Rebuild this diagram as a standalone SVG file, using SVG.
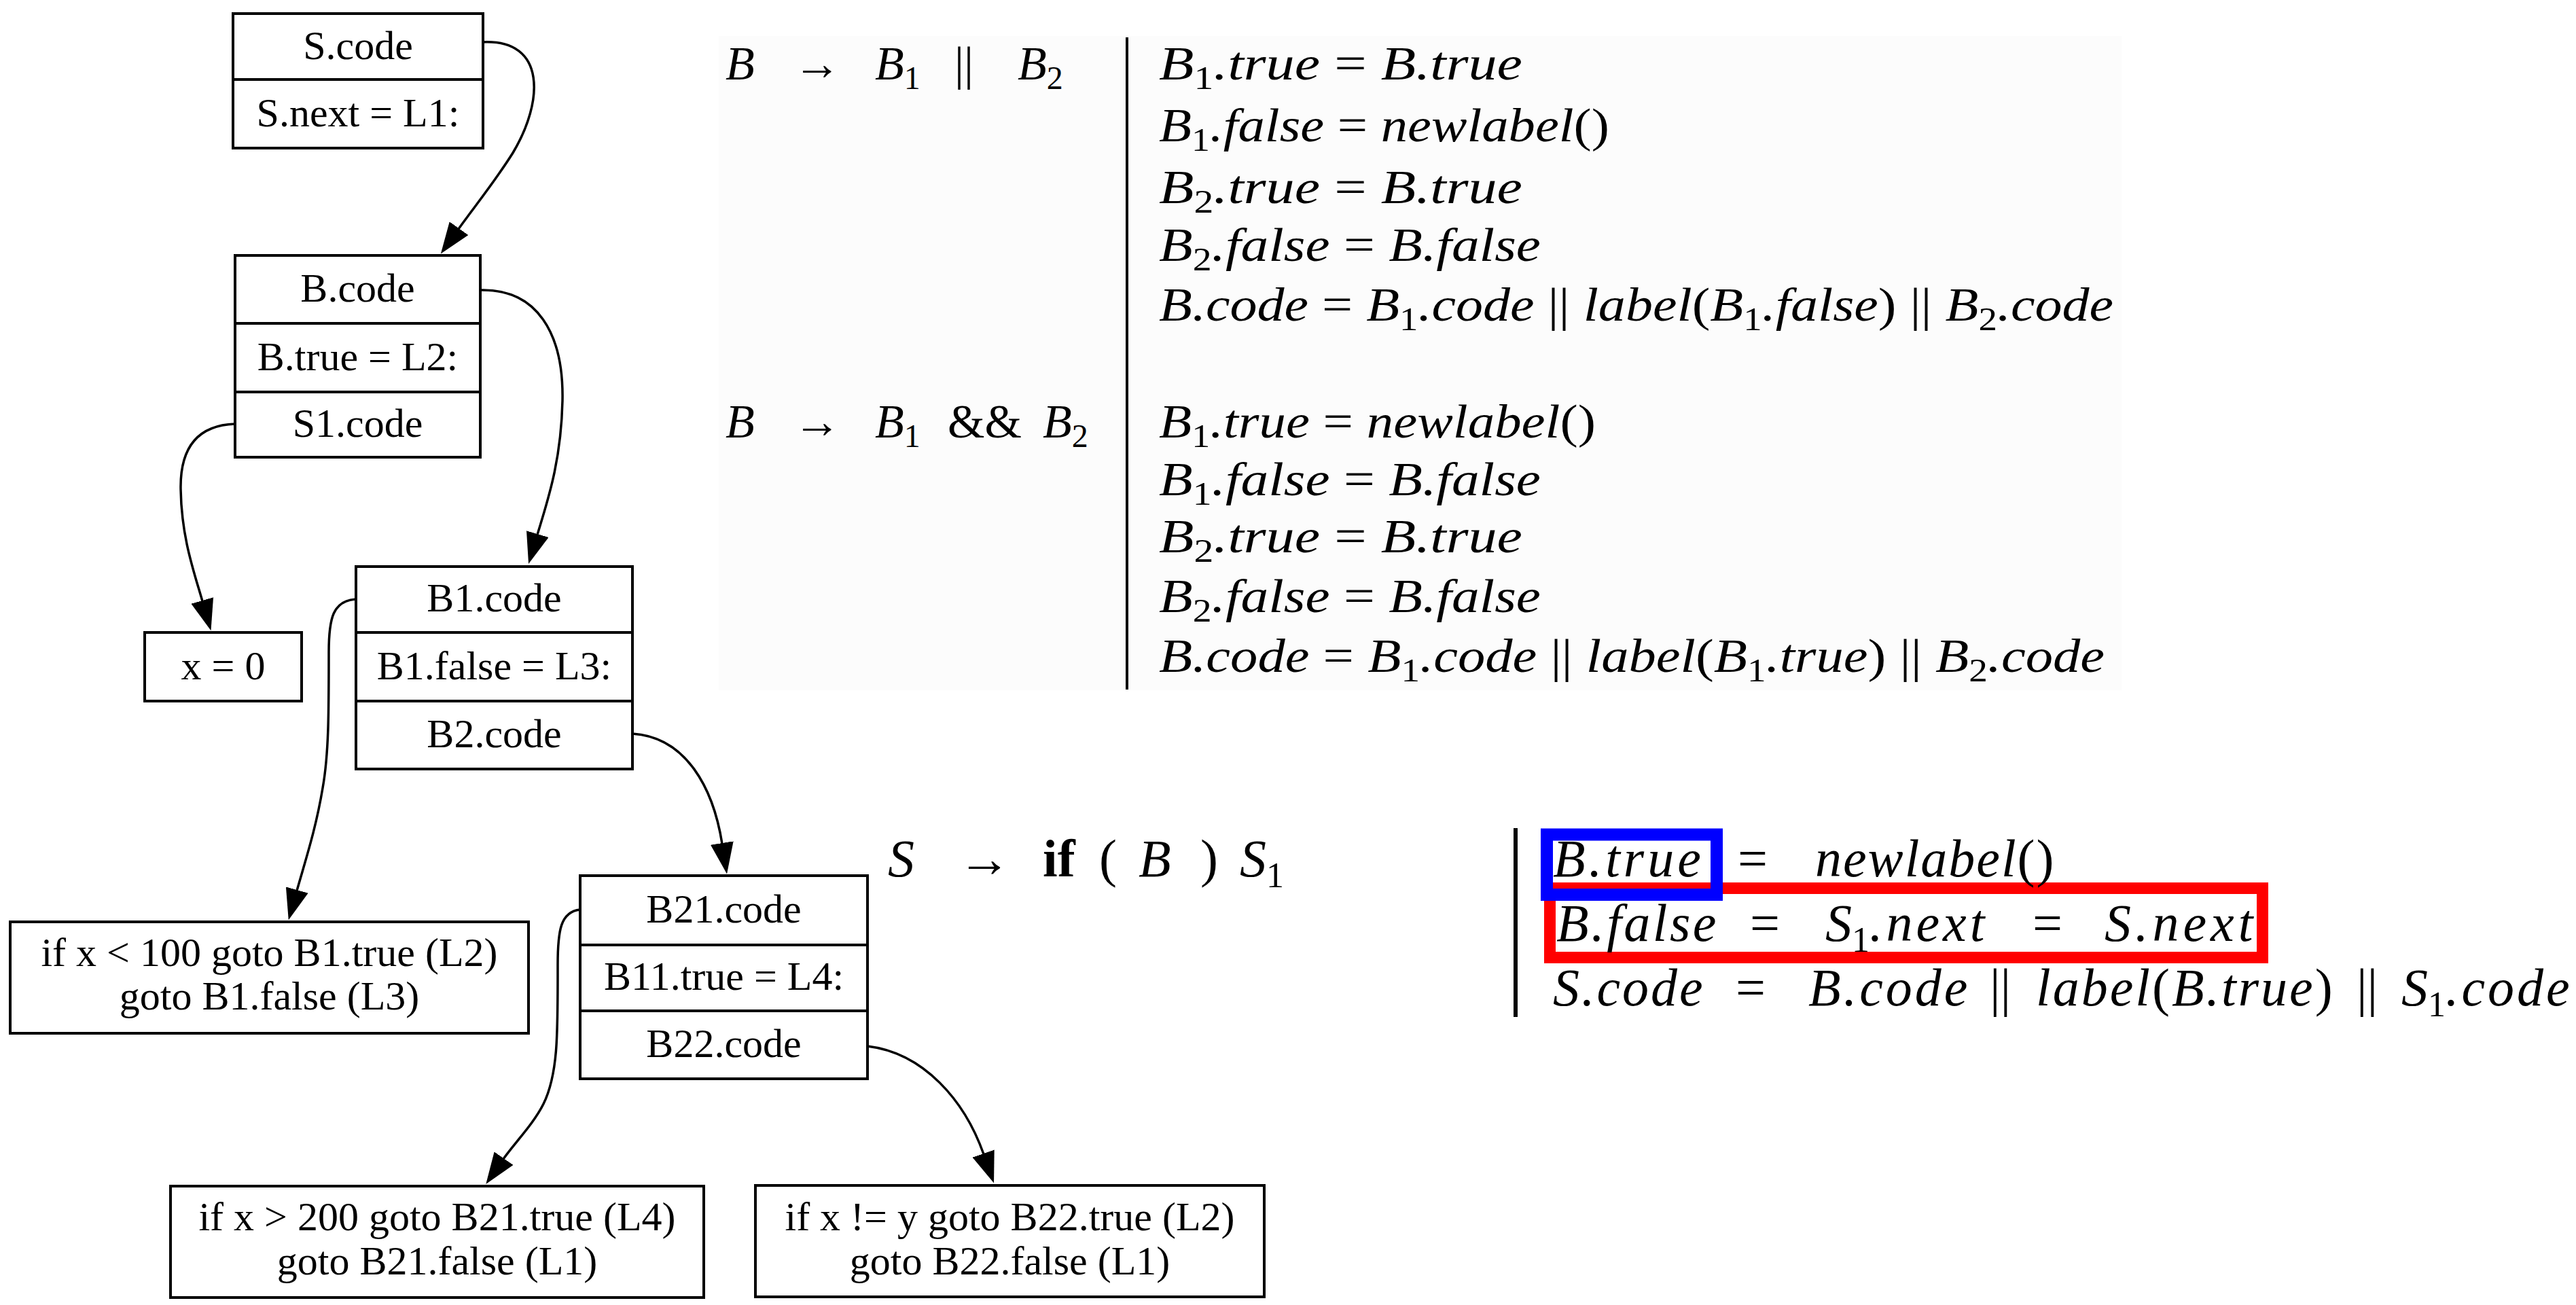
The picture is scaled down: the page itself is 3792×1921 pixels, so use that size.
<svg xmlns="http://www.w3.org/2000/svg" width="3792" height="1921" viewBox="0 0 3792 1921">
<defs>
<style>
.nb{fill:#fff;stroke:#000;stroke-width:4}
.nl{stroke:#000;stroke-width:4}
.nt{font-family:"Liberation Serif","Times New Roman",serif;font-size:60px;text-anchor:middle;fill:#000}
.edge{fill:none;stroke:#000;stroke-width:3.5;marker-end:url(#ah)}
.m{font-family:"Liberation Serif","DejaVu Serif",serif;font-size:70px;font-style:italic;fill:#000}
.m2{font-family:"Liberation Serif","DejaVu Serif",serif;font-size:78px;font-style:italic;fill:#000}
.sub{font-size:48px;font-style:normal}
.sub2{font-size:52px;font-style:normal}
.up{font-style:normal}
.bold{font-style:normal;font-weight:bold}
.rule{stroke:#000;fill:none}
</style>
<marker id="ah" markerUnits="userSpaceOnUse" viewBox="0 0 46 34" refX="1" refY="17" markerWidth="46" markerHeight="34" orient="auto">
<path d="M0,0 L46,17 L0,34 z" fill="#000"/>
</marker>
</defs>
<rect width="3792" height="1921" fill="#fff"/>

<!-- nodes -->
<g id="node-S">
<rect class="nb" x="343" y="20" width="368" height="198"/>
<line class="nl" x1="343" y1="117" x2="711" y2="117"/>
<text class="nt" x="527" y="87">S.code</text>
<text class="nt" x="527" y="186">S.next = L1:</text>
</g>
<g id="node-B">
<rect class="nb" x="346" y="376" width="361" height="297"/>
<line class="nl" x1="346" y1="476" x2="707" y2="476"/>
<line class="nl" x1="346" y1="577" x2="707" y2="577"/>
<text class="nt" x="526.5" y="444">B.code</text>
<text class="nt" x="526.5" y="545">B.true = L2:</text>
<text class="nt" x="526.5" y="643">S1.code</text>
</g>
<g id="node-x0">
<rect class="nb" x="213" y="931" width="231" height="101"/>
<text class="nt" x="328.5" y="1000">x = 0</text>
</g>
<g id="node-B1">
<rect class="nb" x="524" y="834" width="407" height="298"/>
<line class="nl" x1="524" y1="931" x2="931" y2="931"/>
<line class="nl" x1="524" y1="1032" x2="931" y2="1032"/>
<text class="nt" x="727.5" y="900">B1.code</text>
<text class="nt" x="727.5" y="1000">B1.false = L3:</text>
<text class="nt" x="727.5" y="1100">B2.code</text>
</g>
<g id="node-lt100">
<rect class="nb" x="15" y="1357" width="763" height="164"/>
<text class="nt" x="396.5" y="1422">if x &lt; 100 goto B1.true (L2)</text>
<text class="nt" x="396.5" y="1486">goto B1.false (L3)</text>
</g>
<g id="node-B21">
<rect class="nb" x="854" y="1289" width="423" height="299"/>
<line class="nl" x1="854" y1="1391" x2="1277" y2="1391"/>
<line class="nl" x1="854" y1="1488" x2="1277" y2="1488"/>
<text class="nt" x="1065.5" y="1358">B21.code</text>
<text class="nt" x="1065.5" y="1457">B11.true = L4:</text>
<text class="nt" x="1065.5" y="1556">B22.code</text>
</g>
<g id="node-gt200">
<rect class="nb" x="251" y="1746" width="785" height="164"/>
<text class="nt" x="643.5" y="1811">if x &gt; 200 goto B21.true (L4)</text>
<text class="nt" x="643.5" y="1876">goto B21.false (L1)</text>
</g>
<g id="node-neq">
<rect class="nb" x="1112" y="1745" width="749" height="164"/>
<text class="nt" x="1486.5" y="1811">if x != y goto B22.true (L2)</text>
<text class="nt" x="1486.5" y="1876">goto B22.false (L1)</text>
</g>

<!-- connectors -->
<g id="connectors">
<path class="edge" d="M 711,62 C 805,58 800,150 755,225 C 728,268 700,302 675,337"/>
<path class="edge" d="M 707,427 C 790,425 830,490 828,590 C 826,680 806,737 791,787"/>
<path class="edge" d="M 346,624 C 290,626 265,660 266,720 C 267,790 285,840 298,885"/>
<path class="edge" d="M 524,882 C 490,884 484,910 484,960 C 484,1050 484,1110 475,1160 C 465,1220 450,1265 437,1311"/>
<path class="edge" d="M 931,1080 C 1010,1085 1050,1160 1063,1242"/>
<path class="edge" d="M 854,1339 C 825,1342 821,1370 821,1420 C 821,1520 822,1580 800,1625 C 785,1655 757,1683 741,1706"/>
<path class="edge" d="M 1277,1540 C 1360,1550 1420,1620 1448,1699"/>
</g>

<!-- upper rules -->
<g id="rules-upper">
<rect x="1058" y="53" width="2065" height="963" fill="#fcfcfc"/>
<line class="rule" x1="1659" y1="55" x2="1659" y2="1015" stroke-width="4"/>
<text class="m" y="117"><tspan x="1068">B</tspan><tspan class="up" x="1168">→</tspan><tspan x="1288">B</tspan><tspan class="sub" dy="14">1</tspan><tspan class="up" x="1405" dy="-14">||</tspan><tspan x="1498">B</tspan><tspan class="sub" dy="14">2</tspan></text>
<text class="m" y="644"><tspan x="1068">B</tspan><tspan class="up" x="1168">→</tspan><tspan x="1288">B</tspan><tspan class="sub" dy="14">1</tspan><tspan class="up" x="1395" dy="-14">&amp;&amp;</tspan><tspan x="1535">B</tspan><tspan class="sub" dy="14">2</tspan></text>

<text class="m" x="1706" y="117" textLength="535" lengthAdjust="spacingAndGlyphs">B<tspan class="sub" dy="14">1</tspan><tspan dy="-14">.true </tspan><tspan class="up">=</tspan> B.true</text>
<text class="m" x="1706" y="208" textLength="663" lengthAdjust="spacingAndGlyphs">B<tspan class="sub" dy="14">1</tspan><tspan dy="-14">.false </tspan><tspan class="up">=</tspan> newlabel<tspan class="up">()</tspan></text>
<text class="m" x="1706" y="299" textLength="535" lengthAdjust="spacingAndGlyphs">B<tspan class="sub" dy="14">2</tspan><tspan dy="-14">.true </tspan><tspan class="up">=</tspan> B.true</text>
<text class="m" x="1706" y="384" textLength="562" lengthAdjust="spacingAndGlyphs">B<tspan class="sub" dy="14">2</tspan><tspan dy="-14">.false </tspan><tspan class="up">=</tspan> B.false</text>
<text class="m" x="1706" y="472" textLength="1405" lengthAdjust="spacingAndGlyphs">B.code <tspan class="up">=</tspan> B<tspan class="sub" dy="14">1</tspan><tspan dy="-14">.code </tspan><tspan class="up">||</tspan> label<tspan class="up">(</tspan>B<tspan class="sub" dy="14">1</tspan><tspan dy="-14">.false</tspan><tspan class="up">)</tspan> <tspan class="up">||</tspan> B<tspan class="sub" dy="14">2</tspan><tspan dy="-14">.code</tspan></text>

<text class="m" x="1706" y="644" textLength="643" lengthAdjust="spacingAndGlyphs">B<tspan class="sub" dy="14">1</tspan><tspan dy="-14">.true </tspan><tspan class="up">=</tspan> newlabel<tspan class="up">()</tspan></text>
<text class="m" x="1706" y="729" textLength="562" lengthAdjust="spacingAndGlyphs">B<tspan class="sub" dy="14">1</tspan><tspan dy="-14">.false </tspan><tspan class="up">=</tspan> B.false</text>
<text class="m" x="1706" y="813" textLength="535" lengthAdjust="spacingAndGlyphs">B<tspan class="sub" dy="14">2</tspan><tspan dy="-14">.true </tspan><tspan class="up">=</tspan> B.true</text>
<text class="m" x="1706" y="901" textLength="562" lengthAdjust="spacingAndGlyphs">B<tspan class="sub" dy="14">2</tspan><tspan dy="-14">.false </tspan><tspan class="up">=</tspan> B.false</text>
<text class="m" x="1706" y="989" textLength="1392" lengthAdjust="spacingAndGlyphs">B.code <tspan class="up">=</tspan> B<tspan class="sub" dy="14">1</tspan><tspan dy="-14">.code </tspan><tspan class="up">||</tspan> label<tspan class="up">(</tspan>B<tspan class="sub" dy="14">1</tspan><tspan dy="-14">.true</tspan><tspan class="up">)</tspan> <tspan class="up">||</tspan> B<tspan class="sub" dy="14">2</tspan><tspan dy="-14">.code</tspan></text>
</g>

<!-- if production -->
<g id="rule-if">
<text class="m2" y="1290"><tspan x="1307">S</tspan><tspan class="up" x="1410">→</tspan><tspan class="bold" x="1535">if</tspan><tspan class="up" x="1618">(</tspan><tspan x="1676">B</tspan><tspan class="up" x="1767">)</tspan><tspan x="1825">S</tspan><tspan class="sub2" dy="16">1</tspan></text>
</g>

<g id="rules-lower">
<line class="rule" x1="2231" y1="1219" x2="2231" y2="1497" stroke-width="6"/>
<rect x="2281.5" y="1307.5" width="1049" height="102" fill="none" stroke="#ff0000" stroke-width="17"/>
<rect x="2277" y="1228.5" width="250" height="88.5" fill="none" stroke="#0000ff" stroke-width="18"/>
<text class="m2" y="1290"><tspan x="2286" letter-spacing="5">B.true</tspan><tspan class="up" x="2558">=</tspan><tspan x="2672" letter-spacing="2">newlabel<tspan class="up">()</tspan></tspan></text>
<text class="m2" y="1385"><tspan x="2291" letter-spacing="3.5">B.false</tspan><tspan class="up" x="2576">=</tspan><tspan x="2687">S</tspan><tspan class="sub2" dy="16">1</tspan><tspan dy="-16" letter-spacing="5">.next</tspan><tspan class="up" x="2992">=</tspan><tspan x="3098" letter-spacing="6">S.next</tspan></text>
<text class="m2" y="1480"><tspan x="2286" letter-spacing="3">S.code</tspan><tspan class="up" x="2555">=</tspan><tspan x="2662" letter-spacing="4">B.code</tspan><tspan class="up" x="2929">||</tspan><tspan x="2997" letter-spacing="3">label<tspan class="up">(</tspan>B.true<tspan class="up">)</tspan></tspan><tspan class="up" x="3469">||</tspan><tspan x="3535">S</tspan><tspan class="sub2" dy="16">1</tspan><tspan dy="-16" letter-spacing="4">.code</tspan></text>
</g>
</svg>
